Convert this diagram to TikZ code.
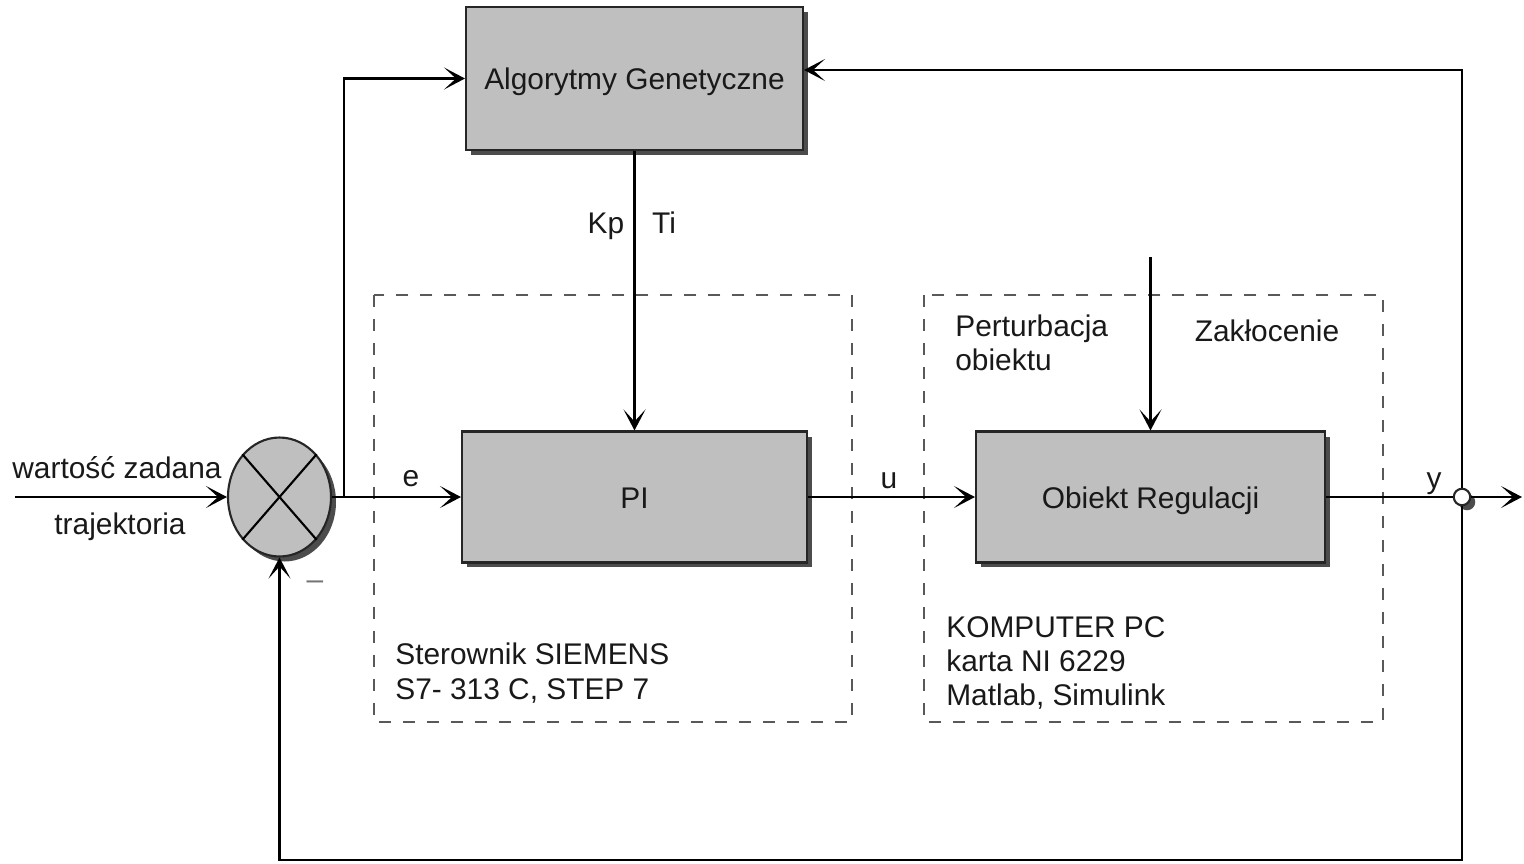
\documentclass[tikz,border=0pt]{standalone}
\usepackage{fontspec}
\setmainfont{Liberation Sans}
\usetikzlibrary{positioning, shapes.geometric, shadows, arrows.meta}

\begin{document}
\begin{tikzpicture}[
    x=0.02cm, y=-0.02cm,
    every node/.style={font=\fontsize{17}{19.5}\selectfont, text=black!90},
    lbl/.style={text height=14pt, text depth=1pt},
    shade/.style={drop shadow={shadow xshift=0.1cm, shadow yshift=-0.1cm, fill=black!70, opacity=1}},
    block/.style={lbl, draw=black!85, line width=1.2pt, fill=black!25, minimum width=6.9cm, minimum height=2.62cm, shade},
    frame/.style={draw=black!65, line width=0.9pt, dash pattern=on 0.24cm off 0.24cm},
    arrow/.style={-{Stealth[length=4.2mm, width=4.4mm, inset=2.4mm]}, line width=1.2pt}
  ]
    \useasboundingbox (0,0) rectangle (1524,863);

    \draw[frame] (374,295) rectangle (852,722);
    \draw[frame] (924,295) rectangle (1383,722);

    \node[block, minimum width=6.74cm, minimum height=2.86cm] (ga) at (634.5,78.5) {Algorytmy Genetyczne};
    \node[block] (pi) at (634.5,497) {PI};
    \node[block, minimum width=6.98cm] (plant) at (1150.5,497) {Obiekt Regulacji};
    \node[ellipse, draw=black!85, line width=1.2pt, fill=black!25, minimum width=2.06cm, minimum height=2.38cm, inner sep=0pt, shade] (sum) at (279.5,497) {};
    \node[circle, draw=black!85, fill=white, minimum size=0.33cm, inner sep=0pt, line width=1.2pt, shade] (out) at (1462,497) {};

    \coordinate (in) at (15,497);
    \coordinate (end) at (1522,497);
    \coordinate (dist) at (1150.5,257);
    \coordinate (low) at (0,860);

    \draw[line width=1.2pt] (sum.north west) -- (sum.south east);
    \draw[line width=1.2pt] (sum.north east) -- (sum.south west);

    \draw[arrow] (in) -- (sum.west);
    \draw[arrow] (sum.east) -- (pi.west);
    \draw[arrow] (sum.east) -- ++(12,0) |- (ga.west);
    \draw[arrow] (ga) -- (pi);
    \draw[arrow] (pi) -- (plant);
    \draw[arrow] (dist) -- (plant);
    \draw[line width=1.2pt] (plant) -- (out);
    \draw[arrow] (out) -- (end);
    \draw[arrow] (out.north) |- ([yshift=0.17cm]ga.east);
    \draw[arrow] (out.south) |- (sum.south |- low) -- (sum.south);

    \node[lbl] (setpoint) at (117,467) {wartość zadana};
    \node[lbl] (traj) at (120,523) {trajektoria};
    \node[lbl] (e) at (411,475) {e};
    \node[lbl] (kp) at (606,222) {Kp};
    \node[lbl] (ti) at (664,222) {Ti};
    \node[lbl] (u) at (889,477) {u};
    \node[lbl] (y) at (1434,477) {y};
    \node[lbl, text=black!55] (minus) at (315,578) {--};
    \node[align=left, anchor=west, inner sep=0pt] (pert) at (955,343) {Perturbacja\\obiektu};
    \node[lbl] (noise) at (1267,330) {Zakłocenie};
    \node[align=left, anchor=west, inner sep=0pt] (plc) at (395,673) {Sterownik SIEMENS\\S7- 313 C, STEP 7};
    \node[align=left, anchor=west, inner sep=0pt] (pc) at (946,663) {KOMPUTER PC\\karta NI 6229\\Matlab, Simulink};
  \end{tikzpicture}
\end{document}
